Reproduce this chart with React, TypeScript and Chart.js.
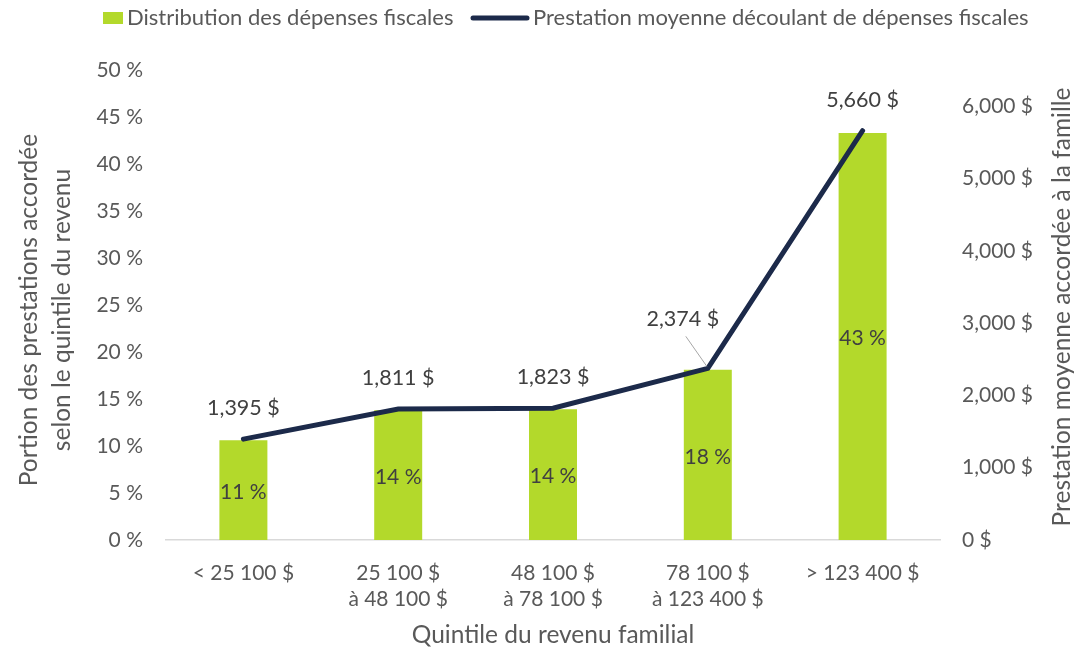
import React, { useEffect, useRef } from "react";
import { Chart, registerables } from "chart.js";

Chart.register(...registerables);

const categories: (string | string[])[] = [
  "< 25 100 $",
  ["25 100 $", "à 48 100 $"],
  ["48 100 $", "à 78 100 $"],
  ["78 100 $", "à 123 400 $"],
  "> 123 400 $",
];
const distributionPct = [10.6, 13.8, 13.9, 18.1, 43.3];
const averageBenefit = [1395, 1811, 1823, 2374, 5660];
const leftTicks = [0, 5, 10, 15, 20, 25, 30, 35, 40, 45, 50];
const rightTicks = [0, 1000, 2000, 3000, 4000, 5000, 6000];

const barLabel = "Distribution des dépenses fiscales";
const lineLabel = "Prestation moyenne découlant de dépenses fiscales";
const leftTitle = ["Portion des prestations accordée", "selon le quintile du revenu"];
const rightTitle = "Prestation moyenne accordée à la famille";
const xTitle = "Quintile du revenu familial";

const FONT = "Lato";
const BAR_COLOR = "#b3d92b";
const LINE_COLOR = "#1c2a4a";
const TICK_COLOR = "#595959";
const LABEL_COLOR = "#404040";

const fmtMoney = (v: number) => v.toLocaleString("en-US") + " $";

const overlayPlugin = {
  id: "overlay",
  afterDraw(chart: any) {
    const ctx = chart.ctx as CanvasRenderingContext2D;
    const area = chart.chartArea;
    ctx.save();
    // legend
    ctx.font = `22px ${FONT}`;
    ctx.textBaseline = "middle";
    ctx.fillStyle = BAR_COLOR;
    ctx.fillRect(103, 12, 20, 12);
    ctx.fillStyle = TICK_COLOR;
    ctx.textAlign = "left";
    ctx.fillText(barLabel, 127, 18);
    ctx.strokeStyle = LINE_COLOR;
    ctx.lineWidth = 5;
    ctx.lineCap = "round";
    ctx.beginPath();
    ctx.moveTo(473, 18);
    ctx.lineTo(527, 18);
    ctx.stroke();
    ctx.fillText(lineLabel, 533, 18);

    // axis titles
    ctx.font = `24.5px ${FONT}`;
    ctx.fillStyle = TICK_COLOR;
    ctx.textAlign = "center";
    const cy = (area.top + area.bottom) / 2 + 5;
    ctx.save();
    ctx.translate(29, cy);
    ctx.rotate(-Math.PI / 2);
    ctx.fillText(leftTitle[0], 0, 0);
    ctx.restore();
    ctx.save();
    ctx.translate(62, cy);
    ctx.rotate(-Math.PI / 2);
    ctx.fillText(leftTitle[1], 0, 0);
    ctx.restore();
    ctx.save();
    ctx.translate(1062, cy - 3);
    ctx.rotate(-Math.PI / 2);
    ctx.fillText(rightTitle, 0, 0);
    ctx.restore();
    ctx.fillText(xTitle, (area.left + area.right) / 2, 635);

    // bar labels
    ctx.font = `21px ${FONT}`;
    ctx.fillStyle = LABEL_COLOR;
    const barMeta = chart.getDatasetMeta(0);
    barMeta.data.forEach((el: any, i: number) => {
      ctx.fillText(Math.round(distributionPct[i]) + " %", el.x, (el.y + el.base) / 2 + 2);
    });
    // line labels
    ctx.font = `21.5px ${FONT}`;
    const lineMeta = chart.getDatasetMeta(1);
    lineMeta.data.forEach((el: any, i: number) => {
      if (i === 3) {
        const lx = el.x - 25;
        const ly = el.y - 49;
        ctx.fillText(fmtMoney(averageBenefit[i]), lx, ly);
        ctx.strokeStyle = "#a6a6a6";
        ctx.lineWidth = 1;
        ctx.lineCap = "butt";
        ctx.beginPath();
        ctx.moveTo(lx + 3, ly + 17);
        ctx.lineTo(el.x - 1, el.y - 2);
        ctx.stroke();
      } else {
        ctx.fillText(fmtMoney(averageBenefit[i]), el.x, el.y - 31);
      }
    });
    ctx.restore();
  },
};

export default function App() {
  const ref = useRef<HTMLCanvasElement | null>(null);
  useEffect(() => {
    document.body.style.margin = "0";
    if (!ref.current) return;
    const chart = new Chart(ref.current, {
      type: "bar",
      data: {
        labels: categories,
        datasets: [
          {
            type: "bar",
            label: barLabel,
            data: distributionPct,
            backgroundColor: BAR_COLOR,
            yAxisID: "y",
            barPercentage: 0.31,
            categoryPercentage: 1,
            order: 2,
          },
          {
            type: "line",
            label: lineLabel,
            data: averageBenefit,
            borderColor: LINE_COLOR,
            backgroundColor: LINE_COLOR,
            borderWidth: 5,
            pointRadius: 0,
            tension: 0,
            borderCapStyle: "round",
            yAxisID: "y1",
            order: 1,
          },
        ],
      } as any,
      options: {
        animation: false,
        responsive: true,
        maintainAspectRatio: false,
        layout: { padding: { top: 70, left: 0, right: 0, bottom: 0 } },
        plugins: {
          legend: { display: false },
          tooltip: { enabled: false },
        },
        scales: {
          x: {
            grid: { display: false, drawTicks: false },
            border: { display: true, color: "#d9d9d9", width: 1.5 },
            ticks: {
              color: TICK_COLOR,
              font: { family: FONT, size: 21, lineHeight: 1.24 },
              padding: 20,
              maxRotation: 0,
            },
            afterFit: (s: any) => {
              s.height = 110;
            },
          },
          y: {
            position: "left",
            min: 0,
            max: 50,
            grid: { display: false, drawTicks: false },
            border: { display: false },
            ticks: {
              stepSize: 5,
              color: TICK_COLOR,
              font: { family: FONT, size: 21 },
              padding: 23,
              callback: (v: any) => v + " %",
            },
            afterBuildTicks: (s: any) => {
              s.ticks = leftTicks.map((value) => ({ value }));
            },
            afterFit: (s: any) => {
              s.width = 166;
            },
          },
          y1: {
            position: "right",
            min: 0,
            max: 6500,
            grid: { display: false, drawTicks: false },
            border: { display: false },
            ticks: {
              stepSize: 1000,
              color: TICK_COLOR,
              font: { family: FONT, size: 21 },
              padding: 22,
              callback: (v: any) => fmtMoney(Number(v)),
            },
            afterBuildTicks: (s: any) => {
              s.ticks = rightTicks.map((value) => ({ value }));
            },
            afterFit: (s: any) => {
              s.width = 134;
            },
          },
        },
      } as any,
      plugins: [overlayPlugin],
    });
    return () => chart.destroy();
  }, []);
  return (
    <div style={{ width: 1074, height: 650, position: "relative" }}>
      <canvas ref={ref} />
    </div>
  );
}
